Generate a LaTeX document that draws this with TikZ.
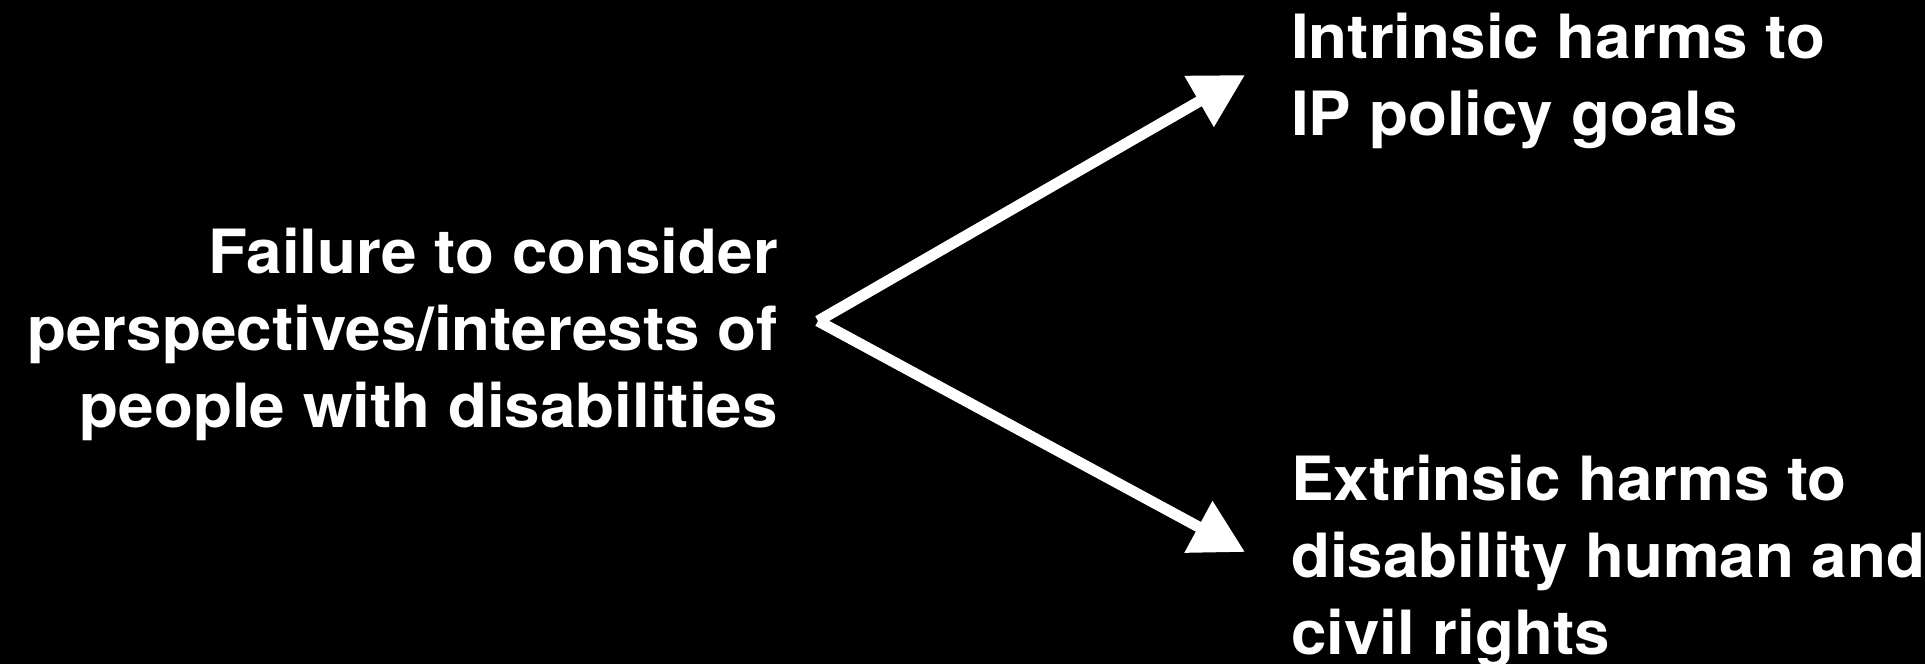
\documentclass[tikz,border=0pt]{standalone}
\usepackage{fontspec}
\setmainfont{TeX Gyre Heros}[FakeStretch=1.045]
\usetikzlibrary{arrows.meta}
\tikzset{
  lbl/.style={text=white, inner sep=0pt, font=\bfseries\fontsize{61}{77}\selectfont},
  conn/.style={draw=white, line width=11pt, -{Triangle[length=53pt,width=56pt]}}
}
\begin{document}
\begin{tikzpicture}[x=1pt,y=-1pt]
  \fill[black] (0,0) rectangle (1925,664);
  \useasboundingbox (0,0) rectangle (1925,664);
  \node[lbl, align=right, anchor=north east] (src) at (778,228)
    {Failure to consider\\perspectives/interests of\\people with disabilities};
  \node[lbl, align=left, anchor=north west] (intr) at (1291,13)
    {Intrinsic harms to\\IP policy goals};
  \node[lbl, align=left, anchor=north west] (extr) at (1291,455)
    {Extrinsic harms to\\disability human and\\civil rights};
  \coordinate (v) at (818,321);
  \coordinate (t1) at (1245,75);
  \coordinate (t2) at (1245,552);
  \draw[conn] (v) -- (t1);
  \draw[conn] (v) -- (t2);
\end{tikzpicture}
\end{document}
